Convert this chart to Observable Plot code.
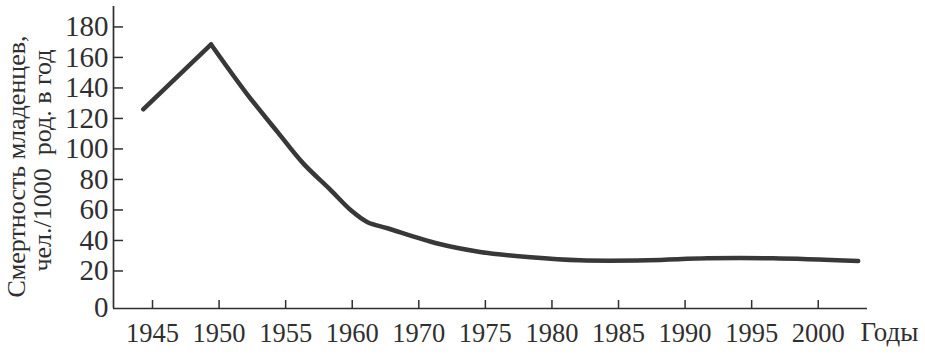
<!DOCTYPE html>
<html>
<head>
<meta charset="utf-8">
<script src="https://cdn.jsdelivr.net/npm/d3@7"></script>
<script src="https://cdn.jsdelivr.net/npm/@observablehq/plot@0.6"></script>
<style>
  html, body { margin: 0; padding: 0; background: #fff; }
  #chart svg { display: block; }
</style>
</head>
<body>
<div id="chart"></div>
<script>
// ---- data ----
const years = [1944.3, 1949.4, 1952.1, 1954.4, 1956.3, 1958.4, 1959.9, 1962.3, 1965.3, 1971.4, 1974.6, 1978.4, 1982.1, 1987.2, 1991.7, 1996.6, 2003.0];
const rates = [126, 168.5, 136, 111, 90.7, 72.9, 59.8, 52, 48, 38, 32.5, 29, 27, 27, 28.3, 28.3, 26.5];
const tickYears = [1945, 1950, 1955, 1960, 1970, 1975, 1980, 1985, 1990, 1995, 2000];
const tickLabels = ["1945", "1950", "1955", "1960", "1970", "1975", "1980", "1985", "1990", "1995", "2000"];
const yTicks = [20, 40, 60, 80, 100, 120, 140, 160, 180];
const yZero = [0];
const xTitle = "Годы";
const yTitleLine1 = "Смертность младенцев,";
const yTitleLine2 = "чел./1000  род. в год";

// broken time axis of the original: 1960 -> 1970 takes one step like 5 years elsewhere
const axisPos = d3.scaleLinear().domain([1945, 1960, 1970, 2000]).range([0, 3, 4, 10]);

const points = years.map((yr, i) => ({pos: axisPos(yr), rate: rates[i]}));
const rising = points.slice(0, 2);
const falling = points.slice(1);
const tickPos = tickYears.map(axisPos);

const W = 925, H = 355, ML = 113, MR = 58, MT = 6, MB = 47;
const frameW = W - ML - MR, frameH = H - MT - MB;
const xDomain = [-0.586, 10.74];
const yDomain = [-4.6, 193.4];
const ink = "#2f2f2f";
const serif = "'Liberation Serif', 'DejaVu Serif', serif";

const chart = Plot.plot({
  width: W,
  height: H,
  marginLeft: ML,
  marginRight: MR,
  marginTop: MT,
  marginBottom: MB,
  style: {color: ink, fontFamily: serif, background: "#fff"},
  x: {type: "linear", domain: xDomain, axis: null},
  y: {type: "linear", domain: yDomain, axis: null},
  marks: [
    Plot.ruleX([xDomain[0]], {stroke: ink, strokeWidth: 1.7}),
    Plot.ruleY([yDomain[0]], {stroke: ink, strokeWidth: 1.7}),
    // inward ticks (10px on the y axis, 8px on the x axis)
    Plot.tickY(yTicks, {y: d => d, insetRight: frameW - 10, stroke: ink, strokeWidth: 1.5}),
    Plot.tickX(tickPos, {x: d => d, insetTop: frameH - 8, stroke: ink, strokeWidth: 1.5}),
    // tick labels
    Plot.axisY(yTicks, {anchor: "left", label: null, tickSize: 0, tickPadding: 5, fontSize: 29}),
    Plot.axisY(yZero, {anchor: "left", label: null, tickSize: 0, tickPadding: 5, dy: 6, fontSize: 29}),
    Plot.axisX(tickPos, {anchor: "bottom", label: null, tickSize: 0, tickPadding: 15, fontSize: 26.5,
      tickFormat: (d, i) => tickLabels[i]}),
    // the series
    Plot.line(rising, {x: "pos", y: "rate", stroke: "#383838", strokeWidth: 4.5, strokeLinecap: "round", strokeLinejoin: "miter"}),
    Plot.line(falling, {x: "pos", y: "rate", curve: "catmull-rom", stroke: "#383838", strokeWidth: 4.5, strokeLinecap: "round", strokeLinejoin: "miter"}),
    // titles
    Plot.text([xTitle], {text: d => d, frameAnchor: "bottom-right", textAnchor: "start", lineAnchor: "middle", dx: -7, dy: 24, fontSize: 27, fill: ink}),
    Plot.text([yTitleLine1], {text: d => d, frameAnchor: "left", textAnchor: "middle", lineAnchor: "middle", rotate: -90, dx: -97, dy: 9, fontSize: 26, fill: ink}),
    Plot.text([yTitleLine2], {text: d => d, frameAnchor: "left", textAnchor: "middle", lineAnchor: "middle", rotate: -90, dx: -71, dy: 3, fontSize: 26, fill: ink})
  ]
});
document.getElementById("chart").appendChild(chart);
</script>
</body>
</html>
